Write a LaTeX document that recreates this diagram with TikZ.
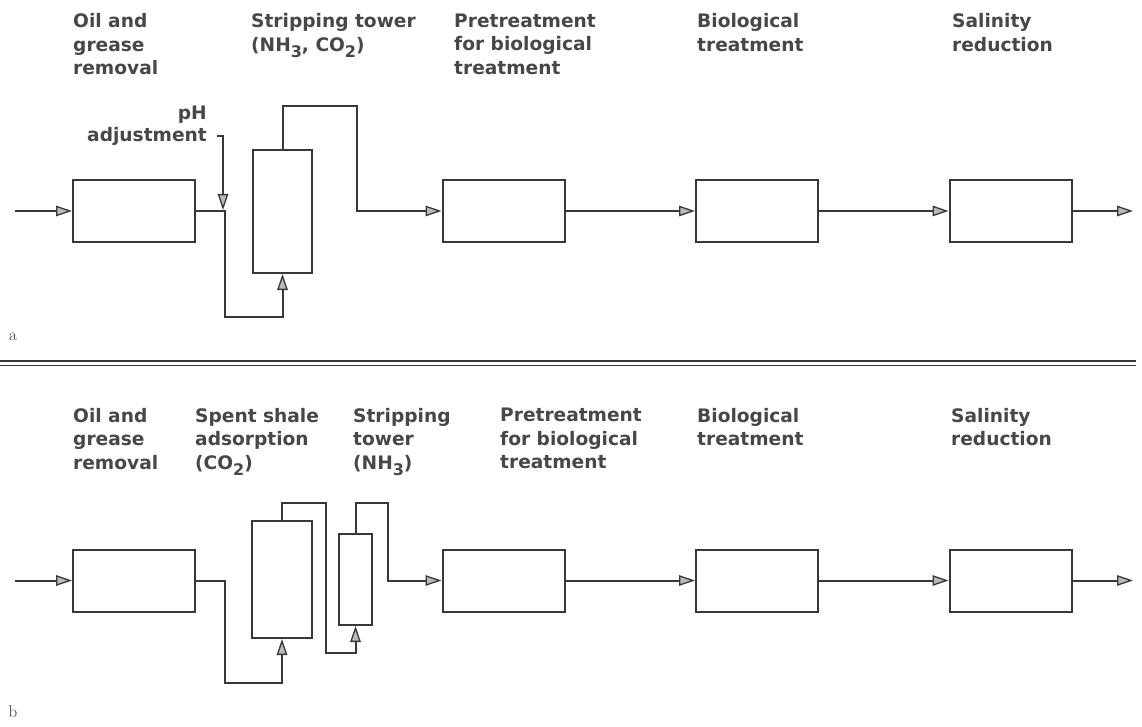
\documentclass[tikz,border=0pt]{standalone}
\usepackage{fontspec}
\newfontfamily\lblfont{DejaVu Sans}
\usetikzlibrary{arrows.meta}
\definecolor{linec}{gray}{0.22}
\definecolor{txtc}{gray}{0.28}
\newcommand{\lowsub}[1]{\raisebox{-6pt}{\fontsize{16}{16}\selectfont #1}}
\begin{document}
\begin{tikzpicture}[x=1pt,y=-1pt,
  box/.style={draw=linec, line width=2pt, minimum width=122pt, minimum height=62pt, inner sep=0pt},
  tower/.style={draw=linec, line width=2pt, inner sep=0pt},
  flow/.style={draw=linec, line width=2pt, -{Triangle[length=16pt,width=10.5pt,fill=gray!55,line width=1.3pt]}},
  lbl/.style={font=\lblfont\bfseries\fontsize{18.6}{23.5}\selectfont, text=txtc, align=left, anchor=north west, inner sep=0pt},
  tag/.style={font=\fontsize{17}{17}\selectfont, inner sep=0pt, text=linec}]
\useasboundingbox (0,0) rectangle (1142,727);

% ---------------- part a ----------------
\node[lbl] (la1) at (73,13.5) {Oil and\\grease\\removal};
\node[lbl] (la2) at (251,13.5) {Stripping tower\\(NH\lowsub{3}, CO\lowsub{2})};
\node[lbl] (la3) at (454,13.5) {Pretreatment\\for biological\\treatment};
\node[lbl] (la4) at (697,13.5) {Biological\\treatment};
\node[lbl] (la5) at (952,13.5) {Salinity\\reduction};
\node[lbl, align=right, anchor=north east, font=\lblfont\bfseries\fontsize{18.6}{21.5}\selectfont] (lph) at (207,106) {pH\\adjustment};

\node[box] (oa) at (134,211) {};
\node[tower, minimum width=59pt, minimum height=123pt] (ta) at (282.5,211.5) {};
\node[box] (pa) at (503.5,211) {};
\node[box] (ba) at (757,211) {};
\node[box] (sa) at (1010.5,211) {};

\coordinate (ina) at (15,211);
\coordinate (outa) at (1133,211);
\coordinate (ja1) at (225,317);
\coordinate (ja2) at (357,106);
\coordinate (pht) at (217,136);
\coordinate (phj) at (223,210);

\draw[flow] (ina) -- (oa);
\draw[flow] (oa.east) -| (ja1) -| (ta.south);
\draw[flow] (ta.north) |- (ja2) |- (pa.west);
\draw[flow] (pht) -| (phj);
\draw[flow] (pa) -- (ba);
\draw[flow] (ba) -- (sa);
\draw[flow] (sa) -- (outa);

\node[tag] (taga) at (13,337) {a};

% separator
\draw[draw=linec, line width=1.5pt] (0,361) -- (1136,361);
\draw[draw=linec, line width=1.5pt] (0,365.5) -- (1136,365.5);

% ---------------- part b ----------------
\node[lbl] (lb1) at (73,408) {Oil and\\grease\\removal};
\node[lbl] (lb2) at (195,408) {Spent shale\\adsorption\\(CO\lowsub{2})};
\node[lbl] (lb3) at (353,408) {Stripping\\tower\\(NH\lowsub{3})};
\node[lbl] (lb4) at (500,408) {Pretreatment\\for biological\\treatment};
\node[lbl] (lb5) at (697,408) {Biological\\treatment};
\node[lbl] (lb6) at (951,408) {Salinity\\reduction};

\node[box] (ob) at (134,580.5) {};
\node[tower, minimum width=60pt, minimum height=117pt] (tb1) at (282,579.5) {};
\node[tower, minimum width=33pt, minimum height=91pt] (tb2) at (355.5,579.5) {};
\node[box] (pb) at (503.5,580.5) {};
\node[box] (bb) at (757,580.5) {};
\node[box] (sb) at (1010.5,580.5) {};

\coordinate (inb) at (15,580.5);
\coordinate (outb) at (1133,580.5);
\coordinate (jb1) at (225,683);
\coordinate (jb2) at (326,503);
\coordinate (jb3) at (355.5,653);
\coordinate (jb4) at (388,503);

\draw[flow] (inb) -- (ob);
\draw[flow] (ob.east) -| (jb1) -| (tb1.south);
\draw[flow] (tb1.north) |- (jb2) |- (jb3) -- (tb2.south);
\draw[flow] (tb2.north) |- (jb4) |- (pb.west);
\draw[flow] (pb) -- (bb);
\draw[flow] (bb) -- (sb);
\draw[flow] (sb) -- (outb);

\node[tag] (tagb) at (13,712) {b};
\end{tikzpicture}
\end{document}
